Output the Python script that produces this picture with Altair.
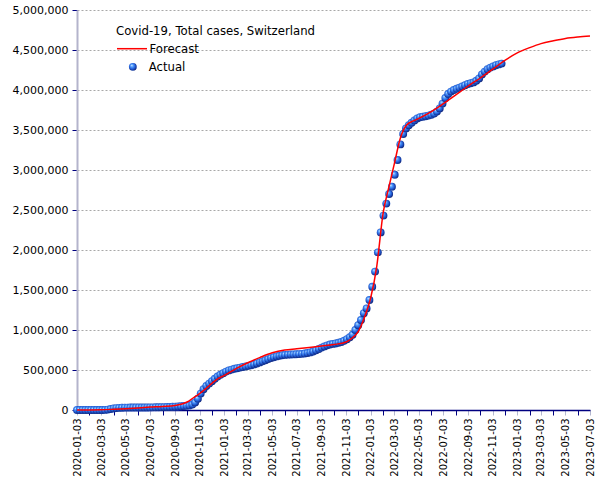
import altair as alt
import pandas as pd

# ---- Actual weekly totals (starting 2020-01-03, one per week) ----
actual_start = "2020-01-03"
actual_values = [
    0, 0, 0, 0, 0, 0, 0, 0, 0, 200,
    1100, 5000, 12000, 19000, 24000, 27000, 28700, 29700, 30200, 30500,
    30700, 30800, 30900, 31000, 31200, 31600, 32300, 33000, 34000, 34800,
    35700, 36600, 37600, 39000, 40600, 42000, 44400, 46700, 49300, 52000,
    57000, 68000, 94000, 140000, 205000, 260000, 300000, 330000, 360000, 390000,
    418000, 440000, 460000, 480000, 495000, 505000, 515000, 522000, 530000, 537000,
    545000, 552000, 560000, 570000, 582000, 595000, 608000, 622000, 636000, 649000,
    660000, 670000, 678000, 684000, 689000, 692000, 694000, 695000, 697000, 699000,
    702000, 706000, 712000, 720000, 731000, 746000, 763000, 780000, 795000, 808000,
    818000, 826000, 832000, 840000, 850000, 865000, 885000, 910000, 940000, 1000000,
    1060000, 1125000, 1210000, 1270000, 1375000, 1540000, 1730000, 1970000, 2220000, 2430000,
    2580000, 2700000, 2790000, 2940000, 3125000, 3320000, 3450000, 3520000, 3560000, 3590000,
    3620000, 3645000, 3660000, 3665000, 3672000, 3680000, 3690000, 3705000, 3730000, 3770000,
    3830000, 3900000, 3950000, 3980000, 4000000, 4015000, 4030000, 4045000, 4060000, 4075000,
    4085000, 4095000, 4115000, 4145000, 4195000, 4230000, 4260000, 4280000, 4295000, 4310000,
    4320000, 4330000,
]

# ---- Forecast curve ----
forecast_dates = [
    "2020-01-03", "2020-02-03", "2020-03-03", "2020-04-03", "2020-05-03", "2020-06-03",
    "2020-07-03", "2020-08-03", "2020-09-03", "2020-10-03", "2020-10-18", "2020-11-03",
    "2020-11-18", "2020-12-03", "2020-12-18", "2021-01-03", "2021-02-03", "2021-03-03",
    "2021-04-03", "2021-05-03", "2021-06-03", "2021-07-03", "2021-08-03", "2021-09-03",
    "2021-10-03", "2021-11-03", "2021-11-18", "2021-12-03", "2021-12-18", "2022-01-03",
    "2022-01-18", "2022-02-03", "2022-02-18", "2022-03-03", "2022-03-18", "2022-04-03",
    "2022-04-18", "2022-05-03", "2022-06-03", "2022-07-03", "2022-08-03", "2022-09-03",
    "2022-10-03", "2022-11-03", "2022-12-03", "2023-01-03", "2023-02-03", "2023-03-03",
    "2023-04-03", "2023-05-03", "2023-06-03", "2023-07-03",
]
forecast_values = [
    0, 1000, 3000, 9000, 16000, 26000,
    36000, 45000, 57000, 100000, 150000, 205000,
    265000, 330000, 390000, 430000, 520000, 590000,
    658000, 715000, 750000, 765000, 782000, 800000,
    818000, 850000, 900000, 980000, 1150000, 1400000,
    1790000, 2460000, 2800000, 3080000, 3400000, 3565000,
    3610000, 3645000, 3730000, 3830000, 3940000, 4050000,
    4150000, 4260000, 4370000, 4465000, 4530000, 4580000,
    4616000, 4645000, 4663000, 4675000,
]

y_ticks = list(range(0, 5000001, 500000))

actual_dates = pd.date_range(actual_start, periods=len(actual_values), freq="7D").strftime("%Y-%m-%d")
df_actual = pd.DataFrame({"date": actual_dates, "cases": actual_values, "series": "Actual"})
df_fc = pd.DataFrame({"date": forecast_dates, "cases": forecast_values, "series": "Forecast"})

month_ticks = []
for y in range(2020, 2024):
    for m in range(1, 13):
        if y == 2023 and m > 7:
            break
        month_ticks.append(alt.DateTime(year=y, month=m, date=3, utc=True))

FONT = "DejaVu Sans"
NAVY = "#000080"

x_enc = alt.X(
    "date:T",
    scale=alt.Scale(type="utc", domain=[alt.DateTime(year=2020, month=1, date=3, utc=True),
                                         alt.DateTime(year=2023, month=7, date=3, utc=True)], nice=False),
    axis=alt.Axis(
        values=month_ticks,
        labelExpr="utcmonth(datum.value) % 2 == 0 ? utcFormat(datum.value, '%Y-%m-%d') : ''",
        labelAngle=-90, labelFont=FONT, labelFontSize=10, labelColor="black",
        labelPadding=3, tickSize=5,
        tickColor={"condition": {"test": "utcmonth(datum.value) % 2 == 0", "value": "#b4b8d0"}, "value": NAVY},
        domainColor=NAVY, domainWidth=1.5, grid=False, title=None, labelOverlap=False,
    ),
)
y_enc = alt.Y(
    "cases:Q",
    scale=alt.Scale(domain=[0, 5000000], nice=False),
    axis=alt.Axis(
        values=y_ticks, labelExpr="format(datum.value, ',.0f')",
        labelFont=FONT, labelFontSize=11, labelColor="black",
        labelPadding=4, tickSize=5, tickColor=NAVY, domainColor="#b4b4cc", domainWidth=2,
        gridColor="#a8a8a8", gridDash=[2, 2], title=None,
    ),
)

grad = alt.RadialGradient(
    gradient="radial",
    stops=[
        alt.GradientStop(color="#e6f6ff", offset=0),
        alt.GradientStop(color="#5ea6ff", offset=0.25),
        alt.GradientStop(color="#2464e0", offset=0.6),
        alt.GradientStop(color="#0a1868", offset=1),
    ],
    x1=0.35, y1=0.3, r1=0, x2=0.45, y2=0.45, r2=0.6,
)

points = alt.Chart(df_actual).mark_point(filled=True, size=62, fill=grad, opacity=1, strokeWidth=0).encode(
    x=x_enc,
    y=y_enc,
    shape=alt.Shape(
        "series:N",
        scale=alt.Scale(domain=["Actual"], range=["circle"]),
        legend=alt.Legend(
            title=None, orient="none", legendX=50, legendY=51, padding=0,
            labelFont=FONT, labelFontSize=11.7, labelColor="black", labelOffset=10,
            symbolSize=62, symbolFillColor="#2a6ae0", symbolStrokeColor="#0a1a70", symbolStrokeWidth=0.5,
        ),
    ),
)

line = alt.Chart(df_fc).mark_line(strokeWidth=1.5, interpolate="monotone").encode(
    x=x_enc,
    y=y_enc,
    stroke=alt.Stroke(
        "series:N",
        scale=alt.Scale(domain=["Forecast"], range=["#ff0000"]),
        legend=alt.Legend(
            title="Covid-19, Total cases, Switzerland", orient="none", legendX=39, legendY=16, padding=0,
            titleFont=FONT, titleFontSize=11.7, titleFontWeight="normal", titleColor="black",
            titlePadding=-5, titleLimit=400,
            labelFont=FONT, labelFontSize=11.7, labelColor="black", labelOffset=1.5,
            symbolType="stroke", symbolSize=900, symbolStrokeWidth=1.5,
        ),
    ),
)

chart = alt.layer(points, line).properties(
    width=513, height=400,
    padding={"left": 77, "top": 10, "right": 15, "bottom": 70},
    autosize=alt.AutoSizeParams(type="none"),
    background="white",
).configure_view(stroke=None)

chart.save("out.html", embed_options={"renderer": "svg", "actions": False})
